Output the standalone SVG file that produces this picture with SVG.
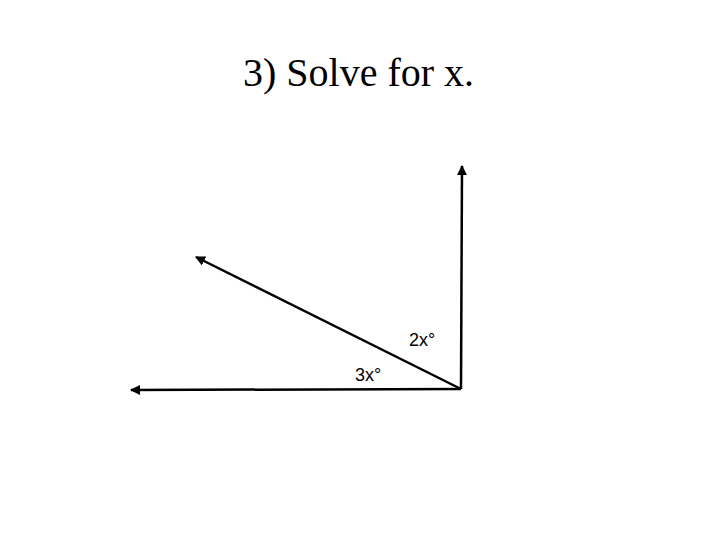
<svg xmlns="http://www.w3.org/2000/svg" width="720" height="540" viewBox="0 0 720 540">
<style>
.ray{stroke:#000;stroke-width:2.5;fill:none;marker-end:url(#ah)}
.lbl{font-family:"Liberation Sans",Arial,sans-serif;font-size:18px;fill:#000}
.title{font-family:"Liberation Serif","Times New Roman",serif;font-size:40px;fill:#000}
</style>
<defs>
<marker id="ah" viewBox="0 0 10 10" refX="9" refY="5" markerWidth="4" markerHeight="4" orient="auto" markerUnits="strokeWidth">
<path d="M0,0 L10,5 L0,10 z" fill="#000"/>
</marker>
</defs>
<rect width="720" height="540" fill="#fff"/>
<text class="title" x="243" y="86">3) Solve for x.</text>
<g id="connectors">
<line class="ray" x1="461" y1="389" x2="462" y2="166"/>
<line class="ray" x1="461" y1="389" x2="196" y2="257"/>
<line class="ray" x1="461" y1="389" x2="131" y2="390"/>
</g>
<g id="label-2x"><text class="lbl" x="409" y="346">2x°</text></g>
<g id="label-3x"><text class="lbl" x="355" y="381">3x°</text></g>
</svg>
